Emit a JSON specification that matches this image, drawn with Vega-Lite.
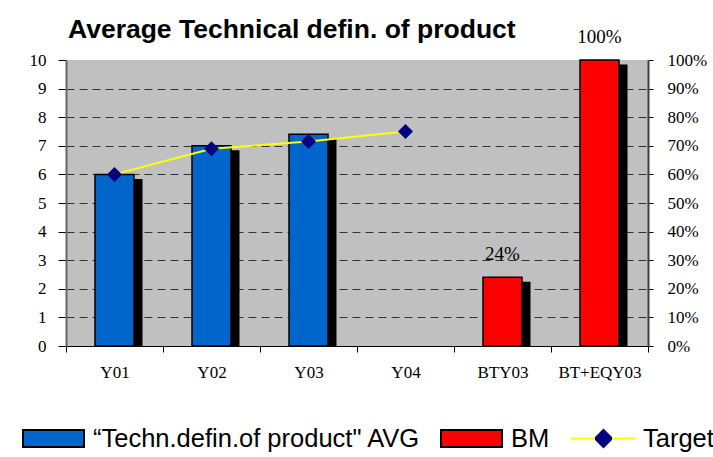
{
  "$schema": "https://vega.github.io/schema/vega-lite/v6.json",
  "width": 582,
  "height": 286,
  "autosize": "none",
  "padding": {"left": 66, "top": 60, "right": 65, "bottom": 111},
  "background": "white",
  "config": {"view": {"fill": "#C0C0C0", "stroke": null}},
  "title": {
    "text": "Average Technical defin. of product",
    "anchor": "start",
    "frame": "group",
    "font": "Liberation Sans",
    "fontSize": 26.5,
    "fontWeight": "bold",
    "color": "black",
    "dx": 2,
    "dy": 22,
    "offset": -14,
    "baseline": "alphabetic"
  },
  "datasets": {
    "avg": [
      {"cat": "Y01", "value": 6.0, "series": "“Techn.defin.of product\" AVG"},
      {"cat": "Y02", "value": 7.0, "series": "“Techn.defin.of product\" AVG"},
      {"cat": "Y03", "value": 7.4, "series": "“Techn.defin.of product\" AVG"}
    ],
    "bm": [
      {"cat": "BTY03", "value": 0.24, "series": "BM", "label": "24%"},
      {"cat": "BT+EQY03", "value": 1.0, "series": "BM", "label": "100%"}
    ],
    "target": [
      {"cat": "Y01", "value": 6.0, "series": "Target"},
      {"cat": "Y02", "value": 6.9, "series": "Target"},
      {"cat": "Y03", "value": 7.15, "series": "Target"},
      {"cat": "Y04", "value": 7.5, "series": "Target"}
    ]
  },
  "encoding": {
    "x": {
      "field": "cat",
      "type": "nominal",
      "sort": null,
      "scale": {"domain": ["Y01", "Y02", "Y03", "Y04", "BTY03", "BT+EQY03"], "paddingInner": 0, "paddingOuter": 0},
      "axis": {
        "title": null,
        "tickBand": "extent",
        "labelAngle": 0,
        "labelFont": "Liberation Serif",
        "labelFontSize": 17,
        "labelColor": "black",
        "tickColor": "black",
        "tickSize": 6,
        "domainColor": "black",
        "domainWidth": 1,
        "labelPadding": 12
      }
    }
  },
  "layer": [
    {
      "encoding": {
        "y": {
          "field": "value",
          "type": "quantitative",
          "scale": {"domain": [0, 10], "nice": false},
          "axis": {
            "orient": "left",
            "title": null,
            "values": [0, 1, 2, 3, 4, 5, 6, 7, 8, 9, 10],
            "tickCount": 12,
            "labelOverlap": false,
            "format": "d",
            "labelFont": "Liberation Serif",
            "labelFontSize": 17,
            "labelColor": "black",
            "tickColor": "black",
            "tickSize": 8,
            "domainColor": "#666666",
            "domainWidth": 2,
            "labelPadding": 12,
            "grid": true,
            "gridColor": "#333333",
            "gridDash": [8, 5],
            "gridOpacity": {"condition": {"test": "datum.value === 0 || datum.value === 10", "value": 0}, "value": 1}
          }
        }
      },
      "layer": [
        {
          "data": {"name": "avg"},
          "mark": {"type": "bar", "width": 39, "fill": "black", "xOffset": 8.5, "yOffset": 4.5, "clip": true}
        },
        {
          "data": {"name": "avg"},
          "mark": {"type": "bar", "width": 39, "stroke": "black", "strokeWidth": 1.5},
          "encoding": {
            "fill": {
              "field": "series",
              "type": "nominal",
              "scale": {
                "domain": ["“Techn.defin.of product\" AVG", "BM", "Target"],
                "range": ["#0066CC", "#FF0000", "#000080"]
              },
              "legend": {
                "orient": "none",
                "legendX": -44,
                "legendY": 347,
                "direction": "horizontal",
                "title": null,
                "labelFont": "Liberation Sans",
                "labelFontSize": 25.5,
                "labelColor": "black",
                "labelLimit": 500,
                "symbolSize": 3721,
                "symbolType": {"expr": "datum.value === 'Target' ? 'M-1.07,0H1.07M0,-0.28L0.28,0L0,0.28L-0.28,0Z' : 'M-1,-0.28H1V0.28H-1Z'"},
                "symbolStrokeColor": {"expr": "datum.value === 'Target' ? {gradient: 'linear', x1: 0, y1: 0, x2: 1, y2: 0, stops: [{offset: 0, color: '#FFFF00'}, {offset: 0.37, color: '#FFFF00'}, {offset: 0.37, color: '#000080'}, {offset: 0.63, color: '#000080'}, {offset: 0.63, color: '#FFFF00'}, {offset: 1, color: '#FFFF00'}]} : 'black'"},
                "symbolStrokeWidth": 2,
                "symbolOpacity": 1,
                "labelOffset": 8,
                "columnPadding": 16,
                "padding": 0
              }
            }
          }
        },
        {
          "data": {"name": "target"},
          "mark": {"type": "line", "color": "#FFFF00", "strokeWidth": 2}
        },
        {
          "data": {"name": "target"},
          "mark": {"type": "point", "shape": "diamond", "size": 225, "filled": true, "opacity": 1},
          "encoding": {
            "fill": {"field": "series", "type": "nominal"}
          }
        }
      ]
    },
    {
      "encoding": {
        "y": {
          "field": "value",
          "type": "quantitative",
          "scale": {"domain": [0, 1], "nice": false},
          "axis": {
            "orient": "right",
            "title": null,
            "values": [0, 0.1, 0.2, 0.3, 0.4, 0.5, 0.6, 0.7, 0.8, 0.9, 1],
            "tickCount": 12,
            "labelOverlap": false,
            "format": ".0%",
            "labelFont": "Liberation Serif",
            "labelFontSize": 17,
            "labelColor": "black",
            "tickColor": "black",
            "tickSize": 5,
            "domainColor": "#404040",
            "domainWidth": 2,
            "labelPadding": 14,
            "grid": false
          }
        }
      },
      "layer": [
        {
          "data": {"name": "bm"},
          "mark": {"type": "bar", "width": 39, "fill": "black", "xOffset": 8.5, "yOffset": 4.5, "clip": true}
        },
        {
          "data": {"name": "bm"},
          "mark": {"type": "bar", "width": 39, "stroke": "black", "strokeWidth": 1.5},
          "encoding": {
            "fill": {"field": "series", "type": "nominal"}
          }
        },
        {
          "data": {"name": "bm"},
          "mark": {"type": "text", "font": "Liberation Serif", "fontSize": 19, "color": "black", "baseline": "alphabetic", "dy": -17},
          "encoding": {
            "text": {"field": "label"}
          }
        }
      ]
    }
  ],
  "resolve": {"scale": {"y": "independent"}}
}
